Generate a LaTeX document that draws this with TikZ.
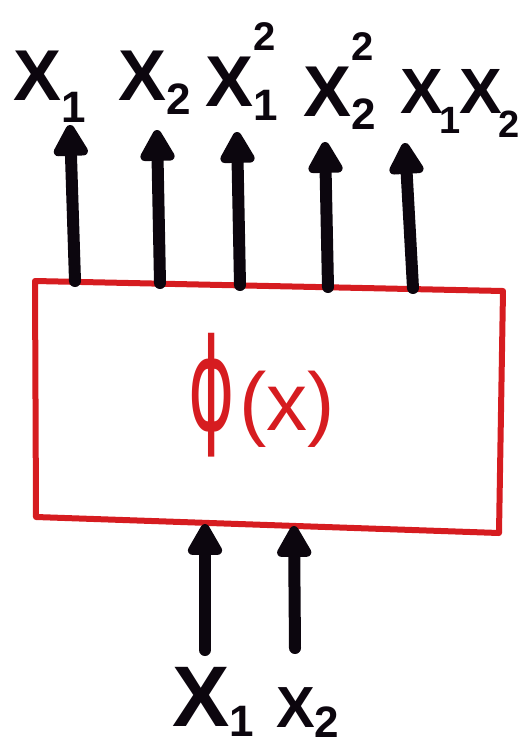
\documentclass[tikz,border=0pt]{standalone}
\usepackage{fontspec}
\usepackage{graphicx}
\usetikzlibrary{arrows.meta}
\newfontfamily\handfont{Liberation Sans}
\newfontfamily\phifont{DejaVu Sans}
\definecolor{handred}{RGB}{214,28,32}
\definecolor{ink}{RGB}{12,6,14}
\newcommand\mysub[2][-18pt]{\raisebox{#1}{\fontsize{44}{44}\selectfont #2}}
\newcommand\mysmallsub[2][-18pt]{\kern-3pt\raisebox{#1}{\fontsize{38}{38}\selectfont #2}\kern-2pt}
\newcommand\mysubsup[4]{\rlap{\raisebox{#3}{\fontsize{40}{40}\selectfont #2}}\raisebox{#4}{\fontsize{44}{44}\selectfont #1}}
\tikzset{
  lbl/.style={inner sep=0pt, text=ink, font=\handfont\bfseries\fontsize{72}{72}\selectfont},
  arr/.style={draw=ink, line width=12pt, line cap=round, line join=round,
    -{Triangle[width=38pt,length=36pt,round]}},
  boxline/.style={draw=handred, line width=6pt, line join=round}
}
\begin{document}
\begin{tikzpicture}[x=1pt,y=-1pt]
\useasboundingbox (0,0) rectangle (532,748);
% box
\coordinate (tl) at (35,281);
\coordinate (tr) at (503,291);
\coordinate (br) at (499,533);
\coordinate (bl) at (36,517);
\draw[boxline] (tl) -- (tr) -- (br) -- (bl) -- cycle;
\node[inner sep=0pt, text=handred, anchor=base] (phi) at (262,430)
  {\phifont\fontsize{128}{128}\selectfont\scalebox{0.55}[1]{ϕ}\kern4pt\handfont\fontsize{82}{82}\selectfont(x)};
% top labels
\node[lbl, anchor=base west] (o1) at (13,100) {X\mysub[-22pt]{1}};
\node[lbl, anchor=base west] (o2) at (118,100) {X\mysub[-14pt]{2}};
\node[lbl, anchor=base west] (o3) at (205,106) {X\mysubsup{1}{2}{56pt}{-14pt}};
\node[lbl, anchor=base west] (o4) at (303,116) {X\mysubsup{2}{2}{56pt}{-13pt}};
\node[lbl, anchor=base west, font=\handfont\bfseries\fontsize{64}{64}\selectfont] (o5) at (400,113) {X\mysmallsub[-20pt]{1}X\mysmallsub[-24pt]{2}};
% top arrow coordinates
\coordinate (a1) at (75,281);   \coordinate (t1) at (70,125);
\coordinate (a2) at (160,283);  \coordinate (t2) at (157,130);
\coordinate (a3) at (240,285);  \coordinate (t3) at (237,132);
\coordinate (a4) at (328,287);  \coordinate (t4) at (325,142);
\coordinate (a5) at (413,288);  \coordinate (t5) at (405,143);
\foreach \i in {1,...,5} { \draw[arr] (a\i) -- (t\i); }
% bottom labels
\node[lbl, anchor=base west, font=\handfont\bfseries\fontsize{86}{86}\selectfont] (i1) at (172,726) {X\mysub[-10pt]{1}};
\node[lbl, anchor=base west, font=\handfont\bfseries\fontsize{58}{58}\selectfont] (i2) at (276,727) {X\mysub[-10pt]{2}};
% bottom arrows
\coordinate (b1) at (205,650);  \coordinate (c1) at (205,524);
\coordinate (b2) at (295,648);  \coordinate (c2) at (294,526);
\draw[arr] (b1) -- (c1);
\draw[arr] (b2) -- (c2);
\end{tikzpicture}
\end{document}
